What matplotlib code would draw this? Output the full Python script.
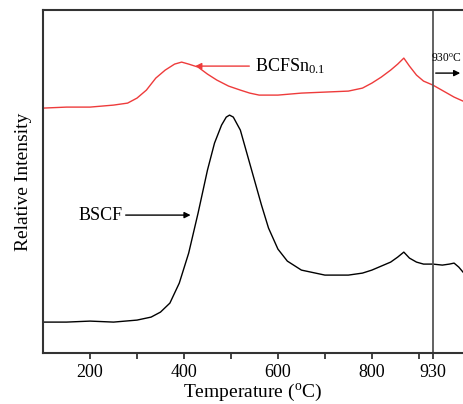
import matplotlib
matplotlib.use('Agg')
import matplotlib.pyplot as plt

plt.rcParams['font.family'] = 'Liberation Serif'
plt.rcParams['mathtext.fontset'] = 'custom'
plt.rcParams['mathtext.rm'] = 'Liberation Serif'
plt.rcParams['mathtext.it'] = 'Liberation Serif:italic'

# Temperatura (C) e intensidade relativa
temp_bcfsn = [100, 150, 200, 250, 280, 300, 320, 340, 360, 380, 395, 410, 430, 450,
              470, 495, 520, 540, 560, 600, 650, 700, 750, 780, 800, 820, 840, 855,
              868, 880, 895, 910, 930, 945, 960, 975, 994]
int_bcfsn = [245, 246, 246, 248, 250, 255, 263, 275, 283, 289, 291, 289, 286, 279,
             273, 267, 263, 260, 258, 258, 260, 261, 262, 265, 270, 276, 283, 289,
             295, 287, 278, 272, 268, 264, 260, 256, 252]

temp_bscf = [100, 150, 200, 250, 300, 330, 350, 370, 390, 410, 430, 450, 465, 480,
             490, 497, 505, 520, 535, 550, 565, 580, 600, 620, 650, 700, 750, 780,
             800, 820, 840, 855, 868, 880, 895, 910, 930, 950, 965, 975, 985, 994]
int_bscf = [31, 31, 32, 31, 33, 36, 41, 50, 70, 100, 140, 183, 210, 228,
            236, 238, 236, 223, 198, 173, 148, 125, 104, 92, 83, 78, 78, 80,
            83, 87, 91, 96, 101, 95, 91, 89, 89, 88, 89, 90, 86, 81]

major_ticks = [200, 400, 600, 800, 930]
minor_ticks = [300, 500, 700, 900]

fig = plt.figure(figsize=(4.63, 4.04), dpi=100)
ax = fig.add_axes([0.093, 0.126, 0.907, 0.849])

ax.plot(temp_bcfsn, int_bcfsn, color='#ee3b3b', lw=1.0)
ax.plot(temp_bscf, int_bscf, color='black', lw=1.0)
ax.axvline(930, color='#555555', lw=1.3)

ax.set_xlim(100, 994)
ax.set_ylim(0, 343)
ax.set_xticks(major_ticks)
ax.set_xticks(minor_ticks, minor=True)
ax.set_yticks([])
ax.tick_params(axis='x', which='both', direction='out', length=4, width=1.2,
               labelsize=13, colors='#222222')
ax.tick_params(axis='x', labelcolor='black')
for s in ['left', 'bottom', 'top']:
    ax.spines[s].set_linewidth(1.5)
    ax.spines[s].set_color('#333333')
ax.spines['right'].set_visible(False)

ax.set_xlabel('Temperature ($^{\\rm o}$C)', fontsize=14, labelpad=1)
ax.set_ylabel('Relative Intensity', fontsize=14, labelpad=8)

# Anotacoes
ax.annotate('', xy=(418, 287), xytext=(545, 287),
            arrowprops=dict(arrowstyle='-|>', color='#ee3b3b', lw=1.0, mutation_scale=9))
ax.text(551, 287, 'BCFSn$_{0.1}$', fontsize=13, va='center', ha='left')

ax.text(175, 138, 'BSCF', fontsize=13, va='center', ha='left')
ax.annotate('', xy=(420, 138), xytext=(270, 138),
            arrowprops=dict(arrowstyle='-|>', color='black', lw=1.0, mutation_scale=9))

fig.text(0.997, 0.855, '930$^{\\rm o}$C', fontsize=8.3, va='center', ha='right')
ax.annotate('', xy=(994, 280), xytext=(930, 280),
            arrowprops=dict(arrowstyle='-|>', color='black', lw=1.0, mutation_scale=9))

plt.savefig('out.png', dpi=100)
